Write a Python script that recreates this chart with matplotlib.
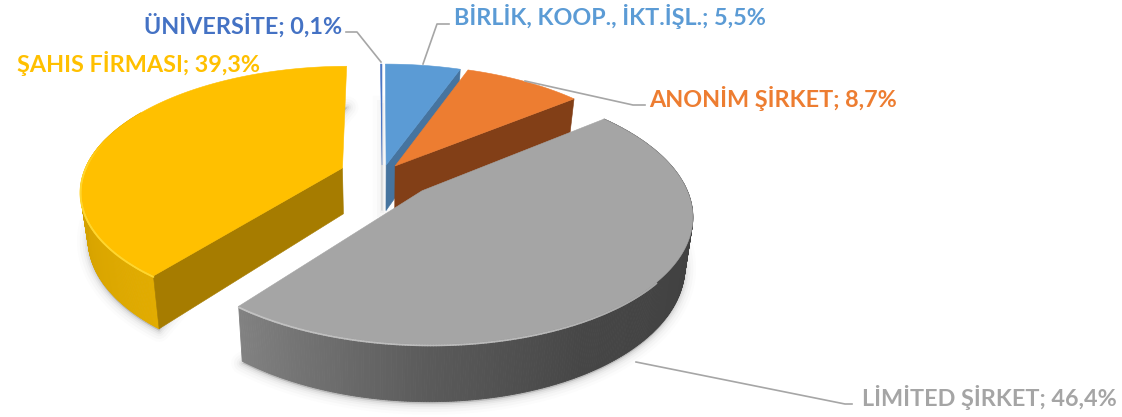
import numpy as np
import matplotlib
matplotlib.use("Agg")
import matplotlib.pyplot as plt
from matplotlib.collections import PolyCollection
from matplotlib.colors import to_rgb

plt.rcParams['font.family'] = ['Lato', 'DejaVu Sans']

# Veriler
categories = ["BİRLİK, KOOP., İKT.İŞL.", "ANONİM ŞİRKET", "LİMİTED ŞİRKET", "ŞAHIS FİRMASI", "ÜNİVERSİTE"]
values = [5.5, 8.7, 46.4, 39.3, 0.1]

top_colors = ["#5B9BD5", "#ED7D31", "#A5A5A5", "#FFC000", "#4472C4"]
wall_colors = ["#46749F", "#823F17", "#7A7A7A", "#A67C00", "#CFCFCF"]

# dilim kaymalari (dünya koordinatinda)
offsets = [(0.02, 0.05), (0.055, 0.042), (0.155, -0.16), (-0.15, 0.025), (0.004, 0.05)]

# yan yüz renk geçisleri: (aci, renk)
side_stops = {
    2: [(90, "#3E3E3E"), (150, "#464646"), (180, "#5A5A5A"), (218.4, "#828282")],
    3: [(218.4, "#E2AC00"), (260, "#D4A100"), (300, "#D4A100")],
}
rim_stops = {
    2: [(130, "#A5A5A5"), (160, "#B8B8B8"), (218.4, "#C2C2C2")],
    3: [(218.4, "#FFD62E"), (270, "#FFD62E"), (285, "#FFC000")],
}

# izdüsüm
OX, OY = 381, 171
K, A, P = 258, 120, 0.17
H = 46
XC, SHRINK = 380, 0.975


def project(X, Y):
    d = 1 + P * Y
    return OX + K * X / d, OY - A * Y / d


def lower(x, y, Y):
    return XC + (x - XC) * SHRINK, y + H / (1 + P * Y)


def blend(stops, t):
    angs = [s[0] for s in stops]
    cols = np.array([to_rgb(s[1]) for s in stops])
    return [np.interp(t, angs, cols[:, i]) for i in range(3)]


fig = plt.figure(figsize=(11.22, 4.17), dpi=100)
ax = fig.add_axes([0, 0, 1, 1])
ax.set_xlim(0, 1122)
ax.set_ylim(417, 0)
ax.axis('off')

edges = np.concatenate([[0], np.cumsum(values)]) * 3.6

# çizim sirasi: arkadan öne
for i in [3, 4, 0, 1, 2]:
    th0, th1 = edges[i], edges[i + 1]
    th = np.linspace(th0, th1, max(int(th1 - th0) * 2, 2))
    rad = np.deg2rad(th)
    x0, y0 = offsets[i]
    WX = x0 + np.sin(rad)
    WY = y0 + np.cos(rad)
    tx, ty = project(WX, WY)
    bx, by = lower(tx, ty, WY)
    ax_, ay_ = project(np.array([x0]), np.array([y0]))
    abx, aby = lower(ax_, ay_, np.array([y0]))

    # gölge
    if i in (2, 3):
        for lw, al in zip([16, 12, 8, 5, 2.5], [0.012, 0.018, 0.025, 0.035, 0.05]):
            ax.fill(bx, by + 2, color='black', alpha=al, lw=lw, joinstyle='round', zorder=1)
    elif i == 0:
        for lw, al in zip([14, 8, 3], [0.012, 0.018, 0.025]):
            ax.plot([ax_[0] - 4] * 2, [ay_[0] - 60, aby[0]], color='black', alpha=al, lw=lw, zorder=1)

    z = 5 if i == 2 else 3

    # yan yüz (arkada kalan kisim çizilmez)
    if i in side_stops:
        quads = []
        cols = []
        for j in range(len(th) - 1):
            mid = (th[j] + th[j + 1]) / 2
            if mid > side_stops[i][-1][0]:
                continue
            quads.append([(tx[j], ty[j]), (tx[j + 1], ty[j + 1]), (bx[j + 1], by[j + 1]), (bx[j], by[j])])
            cols.append(blend(side_stops[i], mid))
        ax.add_collection(PolyCollection(quads, facecolors=cols, edgecolors=cols, linewidths=0.6, zorder=z - 0.1))

    # iç duvar: sahis dilimi baslangic kenarini, digerleri bitis kenarini gösterir
    k = 0 if i == 3 else -1
    if i != 2:
        ax.fill([ax_[0], tx[k], bx[k], abx[0]], [ay_[0], ty[k], by[k], aby[0]],
                color=wall_colors[i], lw=0.4, zorder=z + (i == 1) * 0.1)

    # üst yüz
    ax.fill(np.r_[ax_, tx], np.r_[ay_, ty], color=top_colors[i], lw=0.4, zorder=z + 0.2 + (i == 1) * 0.1)

    # kenar parlakligi
    if i in rim_stops:
        for j in range(len(th) - 1):
            mid = (th[j] + th[j + 1]) / 2
            if mid < rim_stops[i][0][0] or mid > rim_stops[i][-1][0]:
                continue
            ax.plot(tx[j:j + 2], ty[j:j + 2] + 1, color=blend(rim_stops[i], mid), lw=1.3,
                    solid_capstyle='round', zorder=z + 0.3)

# etiketler
label_pos = [(454, 16), (649, 98), (862, 398), (17, 63), (144, 26)]
leaders = [
    ([449, 437, 423], [24, 24, 64]),
    ([645, 633, 525], [105, 105, 81]),
    ([852, 845, 636], [404, 404, 362]),
    None,
    ([346, 357, 381], [32, 32, 62]),
]
for i in range(5):
    if leaders[i] is not None:
        ax.plot(leaders[i][0], leaders[i][1], color="#A6A6A6", lw=1.2, zorder=6)
    pct = f"{values[i]:.1f}".replace('.', ',')
    ax.text(label_pos[i][0], label_pos[i][1], f"{categories[i]}; {pct}%", color=top_colors[i],
            fontsize=16.85, fontweight='bold', va='center', ha='left', zorder=7)

fig.savefig("out.png", dpi=100, facecolor='white')
